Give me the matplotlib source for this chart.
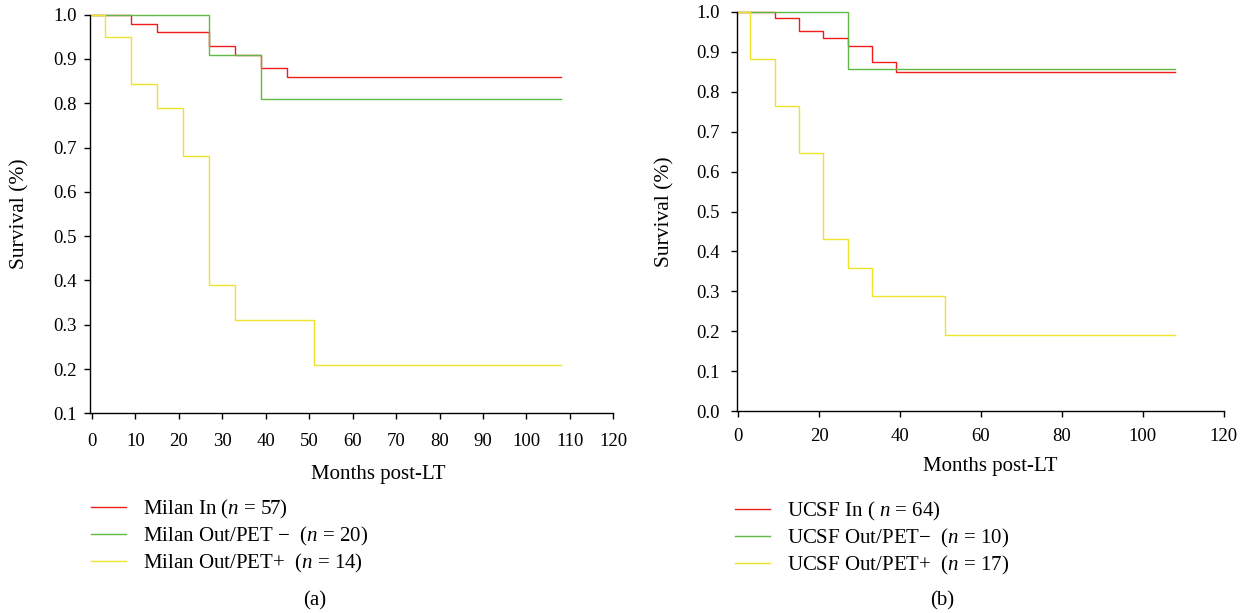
import numpy as np
import matplotlib.pyplot as plt

plt.rcParams['font.family'] = ['Liberation Serif', 'DejaVu Serif']
plt.rcParams['mathtext.fontset'] = 'custom'
plt.rcParams['mathtext.rm'] = 'Liberation Serif'
plt.rcParams['mathtext.it'] = 'Liberation Serif:italic'

# panel (a) - Milan
milan_in_t = [0, 9, 15, 27, 33, 39, 45, 108]
milan_in_s = [1.0, 0.98, 0.96, 0.93, 0.91, 0.88, 0.86, 0.86]
milan_neg_t = [0, 27, 39, 108]
milan_neg_s = [1.0, 0.91, 0.81, 0.81]
milan_pos_t = [0, 3, 9, 15, 21, 27, 33, 51, 108]
milan_pos_s = [1.0, 0.95, 0.843, 0.79, 0.68, 0.39, 0.31, 0.21, 0.21]
milan_labels = ["Milan In ($n$ = 57)",
                "Milan Out/PET \u2212  ($n$ = 20)",
                "Milan Out/PET+  ($n$ = 14)"]

# panel (b) - UCSF
ucsf_in_t = [0, 9, 15, 21, 27, 33, 39, 108]
ucsf_in_s = [1.0, 0.984, 0.952, 0.935, 0.916, 0.874, 0.85, 0.85]
ucsf_neg_t = [0, 27, 108]
ucsf_neg_s = [1.0, 0.857, 0.857]
ucsf_pos_t = [0, 3, 9, 15, 21, 27, 33, 51, 108]
ucsf_pos_s = [1.0, 0.882, 0.765, 0.647, 0.431, 0.359, 0.288, 0.191, 0.191]
ucsf_labels = ["UCSF In ( $n$ = 64)",
               "UCSF Out/PET\u2212  ($n$ = 10)",
               "UCSF Out/PET+  ($n$ = 17)"]

colors = ['#f01c1c', '#62b846', '#eee42a']

W, H = 1244, 613
fig = plt.figure(figsize=(W / 100, H / 100), dpi=100)

def box(l, r, t, b):
    return [l / W, 1 - b / H, (r - l) / W, (b - t) / H]

ax1 = fig.add_axes(box(90, 613.3, 14.7, 413.3))
ax2 = fig.add_axes(box(736.5, 1223.7, 12, 411))

panels = [
    (ax1, [(milan_in_t, milan_in_s), (milan_neg_t, milan_neg_s), (milan_pos_t, milan_pos_s)],
     milan_labels, (0.1, 1.0), np.arange(0, 121, 10)),
    (ax2, [(ucsf_in_t, ucsf_in_s), (ucsf_neg_t, ucsf_neg_s), (ucsf_pos_t, ucsf_pos_s)],
     ucsf_labels, (0.0, 1.0), np.arange(0, 121, 20)),
]

for ax, series, labels, ylim, xt in panels:
    for (t, s), c, lab in zip(series, colors, labels):
        ax.step(t, s, where='post', color=c, lw=1.0, label=lab, clip_on=False)
    ax.set_xlim(-0.45, 120)
    ax.set_ylim(*ylim)
    ax.set_xticks(xt)
    ax.set_yticks(np.round(np.arange(ylim[0], 1.001, 0.1), 1))
    ax.yaxis.set_major_formatter(plt.FormatStrFormatter('%.1f'))
    for sp in ['top', 'right']:
        ax.spines[sp].set_visible(False)
    for sp in ['left', 'bottom']:
        ax.spines[sp].set_linewidth(1.0)
    ax.tick_params(direction='out', length=4, width=1.0, labelsize=13.5)
    ax.set_ylabel("Survival (%)", fontsize=15.5)
    ax.set_xlabel("Months post-LT", fontsize=15)

ax1.tick_params(axis='x', pad=10)
ax2.tick_params(axis='x', pad=8)
ax1.tick_params(axis='y', pad=5.5)
ax2.tick_params(axis='y', pad=8)

# label placement
ax1.xaxis.set_label_coords((378 - 90) / 523.3, (413.3 - 475) / 398.6)
ax2.xaxis.set_label_coords((990 - 736.5) / 487.2, (411 - 467) / 399)
ax1.xaxis.label.set_va('center')
ax2.xaxis.label.set_va('center')
ax1.yaxis.set_label_coords((20 - 90) / 523.3, 0.5)
ax2.yaxis.set_label_coords((665 - 736.5) / 487.2, 0.5)
ax1.yaxis.label.set_va('center')
ax2.yaxis.label.set_va('center')

# legends below each panel
leg_kw = dict(frameon=False, fontsize=15, handlelength=1.7, handletextpad=0.8,
              labelspacing=0.19, borderaxespad=0, borderpad=0,
              bbox_transform=fig.transFigure, loc='upper left')
ax1.legend(bbox_to_anchor=(91 / W, 1 - 497.5 / H), **leg_kw)
ax2.legend(bbox_to_anchor=(735 / W, 1 - 499.5 / H), **leg_kw)

fig.text(315 / W, 1 - 601 / H, "(a)", ha='center', va='center', fontsize=15)
fig.text(942 / W, 1 - 601 / H, "(b)", ha='center', va='center', fontsize=15)

fig.savefig("out.png", dpi=100)
